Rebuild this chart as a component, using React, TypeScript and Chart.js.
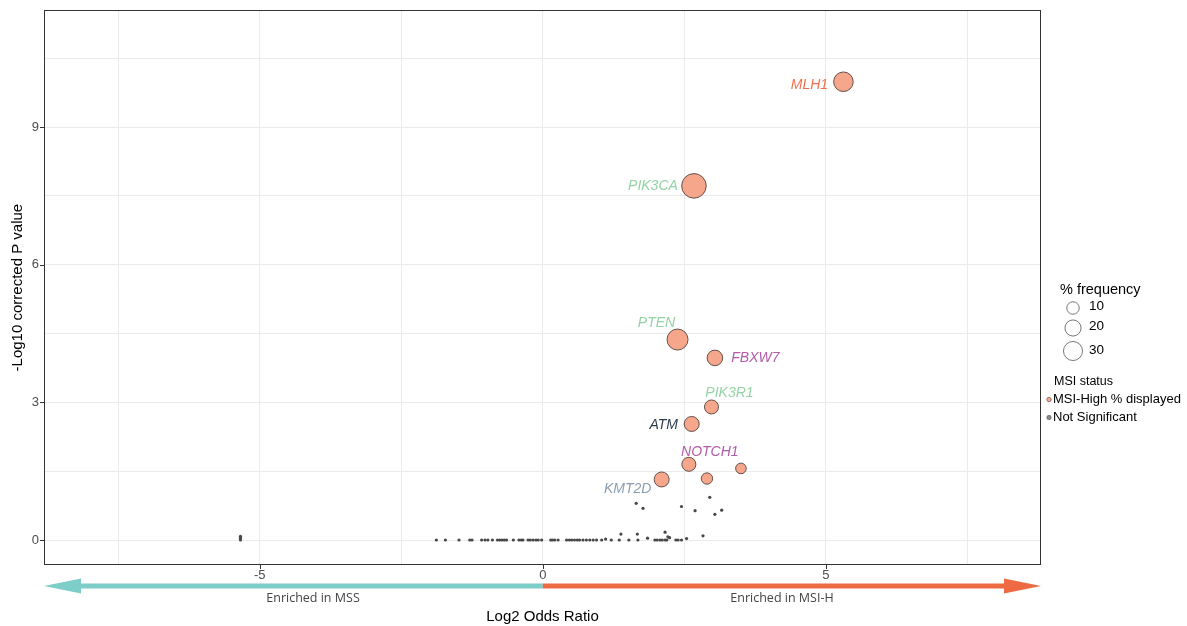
import React, { useEffect, useRef } from "react";
import { Chart, registerables } from "chart.js";

Chart.register(...registerables);

// ---------- data ----------
const sigGenes = ["MLH1", "PIK3CA", "PTEN", "FBXW7", "PIK3R1", "ATM", "NOTCH1", "KMT2D", "", ""];
const sigLog2OR = [5.31, 2.67, 2.38, 3.04, 2.98, 2.63, 2.58, 2.1, 2.9, 3.5];
const sigNegLog10P = [9.99, 7.72, 4.37, 3.97, 2.9, 2.53, 1.65, 1.32, 1.34, 1.56];
const sigFrequency = [32, 53, 37.5, 18.5, 14, 16.7, 14, 16.7, 7.4, 5.7];

const nsLog2OR = [
  -1.88, -1.72, -1.48, -1.29, -1.25, -1.08, -1.02, -0.97, -0.89, -0.8, -0.76, -0.72, -0.68, -0.64,
  -0.52, -0.42, -0.38, -0.35, -0.26, -0.22, -0.17, -0.12, -0.08, -0.02, 0.14, 0.17, 0.21, 0.27,
  0.42, 0.47, 0.51, 0.56, 0.61, 0.65, 0.71, 0.77, 0.83, 0.89, 0.95, 1.04, 1.21, 1.35, 1.52, 1.68,
  1.98, 2.02, 2.07, 2.11, 2.16, 2.19, 2.35, 2.39, 2.45,
  1.11, 1.85, 2.24, 2.21, 2.54,
  1.38, 1.67, 2.16, 2.83, 1.65, 1.77, 2.45, 2.69, 2.95, 3.04, 3.16,
  -5.34, -5.34, -5.34,
];
const nsNegLog10P = [
  0, 0, 0, 0, 0, 0, 0, 0, 0, 0, 0, 0, 0, 0,
  0, 0, 0, 0, 0, 0, 0, 0, 0, 0, 0, 0, 0, 0,
  0, 0, 0, 0, 0, 0, 0, 0, 0, 0, 0, 0, 0, 0, 0, 0,
  0, 0, 0, 0, 0, 0, 0, 0, 0,
  0.02, 0.04, 0.05, 0.07, 0.03,
  0.13, 0.13, 0.17, 0.09, 0.8, 0.69, 0.73, 0.64, 0.93, 0.56, 0.65,
  0, 0.04, 0.08,
];

const xTickValues = [-7.5, -5, -2.5, 0, 2.5, 5, 7.5];
const xTickLabels = ["", "-5", "", "0", "", "5", ""];
const yTickValues = [0, 1.5, 3, 4.5, 6, 7.5, 9, 10.5];
const yTickLabels = ["0", "", "3", "", "6", "", "9", ""];
const legendFrequencies = [10, 20, 30];

// ---------- styles ----------
const FONT = "'Liberation Sans', Arial, Helvetica, sans-serif";
const BUBBLE_FILL = "#f6a68b";
const BUBBLE_EDGE = "#52423e";
const DOT = "#474747";
const TEAL = "#7dcdc8";
const ORANGE = "#ee6a42";
const labelColor: Record<string, string> = {
  MLH1: "#f0714f",
  PIK3CA: "#93d3a4",
  PTEN: "#93d3a4",
  PIK3R1: "#93d3a4",
  FBXW7: "#b35aa8",
  NOTCH1: "#b35aa8",
  ATM: "#2f3d4d",
  KMT2D: "#8b9db0",
};
// label centre offsets from each bubble (px)
const labelOffsets: Record<string, [number, number]> = {
  MLH1: [-34, 3.5],
  PIK3CA: [-41, 0],
  PTEN: [-21, -16.5],
  FBXW7: [40.5, 0],
  PIK3R1: [18, -14],
  ATM: [-28, 1.5],
  NOTCH1: [21, -12.5],
  KMT2D: [-34, 9.5],
};

// canvas is shifted up by this many px on the page
const SHIFT = 3;

const radiusFor = (f: number) => Math.sqrt(18 + 2.75 * f) - 0.5;

const extras = {
  id: "extras",
  afterDatasetsDraw(chart: any) {
    const { ctx, chartArea: a, scales } = chart;
    const x = scales.x;
    const y = scales.y;
    const Y = (v: number) => v + SHIFT;
    ctx.save();

    // panel border
    ctx.strokeStyle = "#333333";
    ctx.lineWidth = 1;
    const top = Math.round(a.top);
    ctx.strokeRect(a.left + 0.5, top + 0.5, a.right - a.left - 1, a.bottom - top - 1);

    // tick marks
    ctx.strokeStyle = "#333333";
    ctx.beginPath();
    yTickValues.forEach((v, i) => {
      if (!yTickLabels[i]) return;
      const py = Math.round(y.getPixelForValue(v)) + 0.5;
      ctx.moveTo(a.left - 4, py);
      ctx.lineTo(a.left, py);
    });
    xTickValues.forEach((v, i) => {
      if (!xTickLabels[i]) return;
      const px = Math.round(x.getPixelForValue(v)) + 0.5;
      ctx.moveTo(px, a.bottom);
      ctx.lineTo(px, a.bottom + 4);
    });
    ctx.stroke();

    // gene labels
    ctx.font = `italic 14px ${FONT}`;
    ctx.textAlign = "center";
    ctx.textBaseline = "middle";
    sigGenes.forEach((g, i) => {
      if (!g) return;
      const px = x.getPixelForValue(sigLog2OR[i]);
      const py = y.getPixelForValue(sigNegLog10P[i]);
      const [dx, dy] = labelOffsets[g];
      ctx.fillStyle = labelColor[g];
      ctx.fillText(g, px + dx, py + dy);
    });

    // direction arrows
    const zero = x.getPixelForValue(0);
    const ay = Y(586);
    const half = 2.5;
    const head = 37;
    const hh = 7.5;
    ctx.fillStyle = TEAL;
    ctx.beginPath();
    ctx.moveTo(zero, ay - half);
    ctx.lineTo(a.left + head, ay - half);
    ctx.lineTo(a.left + head, ay - hh);
    ctx.lineTo(a.left, ay);
    ctx.lineTo(a.left + head, ay + hh);
    ctx.lineTo(a.left + head, ay + half);
    ctx.lineTo(zero, ay + half);
    ctx.closePath();
    ctx.fill();
    ctx.fillStyle = ORANGE;
    ctx.beginPath();
    ctx.moveTo(zero, ay - half);
    ctx.lineTo(a.right - head, ay - half);
    ctx.lineTo(a.right - head, ay - hh);
    ctx.lineTo(a.right, ay);
    ctx.lineTo(a.right - head, ay + hh);
    ctx.lineTo(a.right - head, ay + half);
    ctx.lineTo(zero, ay + half);
    ctx.closePath();
    ctx.fill();

    ctx.font = `12.5px 'Open Sans', 'Noto Sans', sans-serif`;
    ctx.fillStyle = "#444444";
    ctx.textAlign = "center";
    ctx.textBaseline = "middle";
    ctx.fillText("Enriched in MSS", 313, Y(598));
    ctx.fillText("Enriched in MSI-H", 782, Y(598));

    // axis titles
    ctx.font = `15px ${FONT}`;
    ctx.fillStyle = "#000000";
    ctx.fillText("Log2 Odds Ratio", (a.left + a.right) / 2, Y(617));
    ctx.save();
    ctx.translate(18, (a.top + a.bottom) / 2);
    ctx.rotate(-Math.PI / 2);
    ctx.fillText("-Log10 corrected P value", 0, 0);
    ctx.restore();

    // legend
    const lx = a.right;
    ctx.textAlign = "left";
    ctx.font = `14.5px ${FONT}`;
    ctx.fillStyle = "#000000";
    ctx.fillText("% frequency", lx + 19, Y(290));
    const cy = [308, 328, 351];
    const ly = [306.5, 326.5, 350];
    legendFrequencies.forEach((f, i) => {
      ctx.beginPath();
      ctx.arc(lx + 32, Y(cy[i]), radiusFor(f), 0, Math.PI * 2);
      ctx.fillStyle = "#ffffff";
      ctx.fill();
      ctx.strokeStyle = "#6a6a6a";
      ctx.lineWidth = 0.9;
      ctx.stroke();
      ctx.fillStyle = "#000000";
      ctx.font = `13.5px ${FONT}`;
      ctx.fillText(String(f), lx + 48, Y(ly[i]));
    });

    ctx.font = `12.5px ${FONT}`;
    ctx.fillText("MSI status", lx + 13, Y(382));
    ctx.font = `13px ${FONT}`;
    ctx.fillText("MSI-High % displayed", lx + 12, Y(399));
    ctx.fillText("Not Significant", lx + 12, Y(417));
    ctx.beginPath();
    ctx.arc(lx + 8, Y(399.5), 2.2, 0, Math.PI * 2);
    ctx.fillStyle = BUBBLE_FILL;
    ctx.fill();
    ctx.strokeStyle = BUBBLE_EDGE;
    ctx.lineWidth = 0.6;
    ctx.stroke();
    ctx.beginPath();
    ctx.arc(lx + 8, Y(417.5), 2.2, 0, Math.PI * 2);
    ctx.fillStyle = "#8a8a8a";
    ctx.fill();
    ctx.strokeStyle = "#555555";
    ctx.stroke();

    ctx.restore();
  },
};

export default function App() {
  const ref = useRef<HTMLCanvasElement>(null);

  useEffect(() => {
    if (!ref.current) return;
    const chart = new Chart(ref.current, {
      type: "scatter",
      data: {
        datasets: [
          {
            label: "MSI-High % displayed",
            data: sigLog2OR.map((v, i) => ({ x: v, y: sigNegLog10P[i] })),
            backgroundColor: BUBBLE_FILL,
            borderColor: BUBBLE_EDGE,
            borderWidth: 0.9,
            pointRadius: (c: any) => radiusFor(sigFrequency[c.dataIndex] ?? 10),
            pointHoverRadius: (c: any) => radiusFor(sigFrequency[c.dataIndex] ?? 10),
          },
          {
            label: "Not Significant",
            data: nsLog2OR.map((v, i) => ({ x: v, y: nsNegLog10P[i] })),
            backgroundColor: DOT,
            borderWidth: 0,
            pointRadius: 1.6,
            pointHoverRadius: 1.6,
          },
        ],
      },
      options: {
        animation: false,
        responsive: true,
        maintainAspectRatio: false,
        layout: { padding: { left: 0, right: 146, top: 10, bottom: 0 } },
        plugins: { legend: { display: false }, tooltip: { enabled: false } },
        scales: {
          x: {
            type: "linear",
            min: -8.81,
            max: 8.8,
            afterBuildTicks: (s: any) => {
              s.ticks = xTickValues.map((v) => ({ value: v }));
            },
            afterFit: (s: any) => {
              s.height = 61;
            },
            grid: { color: "#ebebeb", lineWidth: 1, drawTicks: false },
            border: { display: false },
            ticks: {
              autoSkip: false,
              maxRotation: 0,
              padding: 3,
              color: "#4d4d4d",
              font: { family: FONT, size: 13 },
              callback: (_v: any, i: number) => xTickLabels[i],
            },
          },
          y: {
            type: "linear",
            min: -0.545,
            max: 11.55,
            afterBuildTicks: (s: any) => {
              s.ticks = yTickValues.map((v) => ({ value: v }));
            },
            afterFit: (s: any) => {
              s.width = 44;
            },
            grid: { color: "#ebebeb", lineWidth: 1, drawTicks: false },
            border: { display: false },
            ticks: {
              autoSkip: false,
              padding: 5,
              color: "#4d4d4d",
              font: { family: FONT, size: 13 },
              callback: (_v: any, i: number) => yTickLabels[i],
            },
          },
        },
      },
      plugins: [extras],
    } as any);
    return () => chart.destroy();
  }, []);

  return (
    <div
      style={{
        position: "absolute",
        left: 0,
        top: -SHIFT,
        width: 1187,
        height: 626 + SHIFT,
      }}
    >
      <canvas ref={ref} />
    </div>
  );
}
